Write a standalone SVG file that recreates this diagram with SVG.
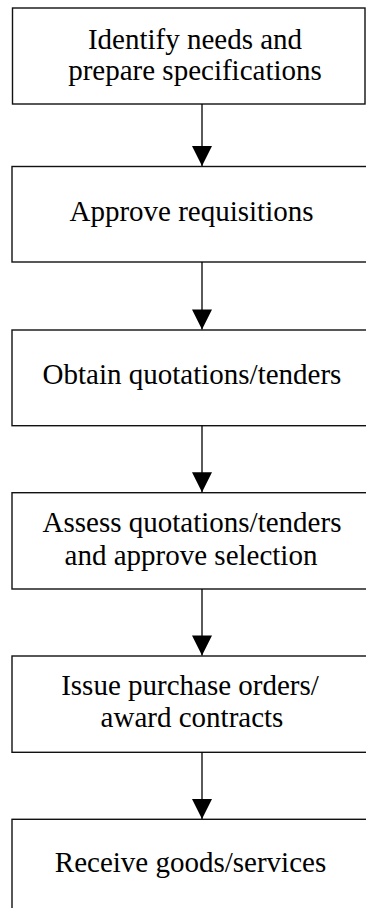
<svg xmlns="http://www.w3.org/2000/svg" width="366" height="908" viewBox="0 0 366 908">
<style>
.box{fill:#fff;stroke:#111;stroke-width:1.4}
.t{font-family:"Liberation Serif","Times New Roman",serif;font-size:29px;fill:#000;text-anchor:middle}
.edge{stroke:#000;stroke-width:1.3;fill:none}
</style>
<defs>
<marker id="ah" markerUnits="userSpaceOnUse" markerWidth="22" markerHeight="20" refX="22" refY="11" orient="auto" viewBox="0 0 22 22">
<path d="M0,0 L22,11 L0,22 Z" fill="#000"/>
</marker>
</defs>
<rect width="366" height="908" fill="#fff"/>
<g id="n1"><rect class="box" x="12.5" y="8" width="352.5" height="96"/>
<text class="t" x="195" y="48.5">Identify needs and</text>
<text class="t" x="195" y="80">prepare specifications</text></g>
<g id="n2"><rect class="box" x="12" y="166.5" width="370" height="95.5"/>
<text class="t" x="191.5" y="221">Approve requisitions</text></g>
<g id="n3"><rect class="box" x="12" y="330" width="370" height="95.7"/>
<text class="t" x="192" y="383.5">Obtain quotations/tenders</text></g>
<g id="n4"><rect class="box" x="12" y="492.7" width="370" height="96.3"/>
<text class="t" x="192" y="531.7">Assess quotations/tenders</text>
<text class="t" x="191" y="565">and approve selection</text></g>
<g id="n5"><rect class="box" x="12" y="656" width="370" height="96.3"/>
<text class="t" x="190" y="695">Issue purchase orders/</text>
<text class="t" x="192" y="727">award contracts</text></g>
<g id="n6"><rect class="box" x="12" y="819.3" width="370" height="96"/>
<text class="t" x="190.5" y="871.7">Receive goods/services</text></g>
<g id="edges">
<line class="edge" x1="202" y1="104" x2="202" y2="166" marker-end="url(#ah)"/>
<line class="edge" x1="202" y1="262" x2="202" y2="329.5" marker-end="url(#ah)"/>
<line class="edge" x1="202" y1="425.7" x2="202" y2="492.2" marker-end="url(#ah)"/>
<line class="edge" x1="202" y1="589" x2="202" y2="655.6" marker-end="url(#ah)"/>
<line class="edge" x1="202" y1="752.3" x2="202" y2="819" marker-end="url(#ah)"/>
</g>
</svg>
